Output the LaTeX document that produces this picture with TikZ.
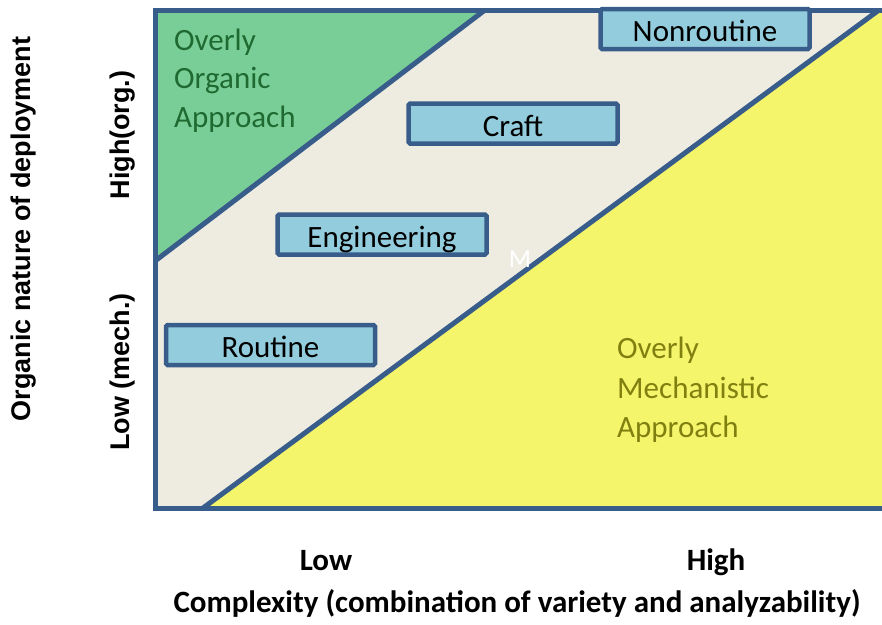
\documentclass[tikz,border=0pt]{standalone}
\usepackage{fontspec}
\setmainfont{Carlito}
\newfontfamily\arialfont{Liberation Sans}
\definecolor{frameblue}{RGB}{56,93,138}
\definecolor{greenfill}{RGB}{121,206,152}
\definecolor{beige}{RGB}{238,236,225}
\definecolor{yellowfill}{RGB}{245,245,107}
\definecolor{boxfill}{RGB}{147,205,221}
\definecolor{greentext}{RGB}{30,106,48}
\definecolor{olivetext}{RGB}{128,128,16}
\tikzset{
  typebox/.style={draw=frameblue, line width=4.5pt, fill=boxfill, rounded corners=1.5pt,
    minimum width=209pt, minimum height=40pt, inner sep=0pt, text height=25pt, text depth=0pt,
    font=\fontsize{31}{37}\selectfont, text=black},
  regiontext/.style={anchor=base west, inner sep=0pt, font=\fontsize{31}{37}\selectfont},
  axislabel/.style={font=\fontsize{31}{36}\selectfont\bfseries, inner sep=0pt, anchor=base},
  sidelabel/.style={font=\arialfont\fontsize{27}{32}\selectfont\bfseries, inner sep=0pt, rotate=90},
  edge/.style={draw=frameblue, line width=5pt}
}
\begin{document}
\begin{tikzpicture}[x=1pt,y=-1pt]
\useasboundingbox (0,0) rectangle (882,624);
\begin{scope}
\clip (0,0) rectangle (882,624);
% regions
\fill[beige] (155,10) rectangle (892,508);
\coordinate (gA) at (155,261);
\coordinate (gB) at (485,10);
\coordinate (yA) at (203,508);
\coordinate (yB) at (879,10);
\fill[greenfill] (155,10) -- (gB) -- (gA) -- cycle;
\fill[yellowfill] (yA) -- (yB) -- (892,10) -- (892,508) -- cycle;
\draw[edge] (gA) -- (gB);
\draw[edge] (yA) -- (yB);
\draw[edge, line join=miter] (892,10) -- (155,10) -- (155,508) -- (892,508);
% boxes
\node[typebox] (nonroutine) at (705,29) {Nonroutine};
\node[typebox] (craft) at (513,123.5) {Craft};
\node[typebox] (engineering) at (382,234.5) {Engineering};
\node[typebox] (routine) at (270.5,345) {Routine};
\end{scope}
% region texts
\node[regiontext, text=greentext] (org1) at (174,50) {Overly};
\node[regiontext, text=greentext] (org2) at (174,88.5) {Organic};
\node[regiontext, text=greentext] (org3) at (174,127) {Approach};
\node[regiontext, text=olivetext] (mech1) at (617,358) {Overly};
\node[regiontext, text=olivetext] (mech2) at (617,398) {Mechanistic};
\node[regiontext, text=olivetext] (mech3) at (617,437) {Approach};
\node[text=white, inner sep=0pt, font=\fontsize{26}{30}\selectfont] (m) at (520,259) {M};
% axis labels
\node[axislabel] (xlow) at (326,570) {Low};
\node[axislabel] (xhigh) at (716,570) {High};
\node[axislabel] (xtitle) at (517,612) {Complexity (combination of variety and analyzability)};
\node[sidelabel] (ytitle) at (24,229) {Organic nature of deployment};
\node[sidelabel] (yhigh) at (123,135) {High(org.)};
\node[sidelabel] (ylow) at (123,372) {Low (mech.)};
\end{tikzpicture}
\end{document}
